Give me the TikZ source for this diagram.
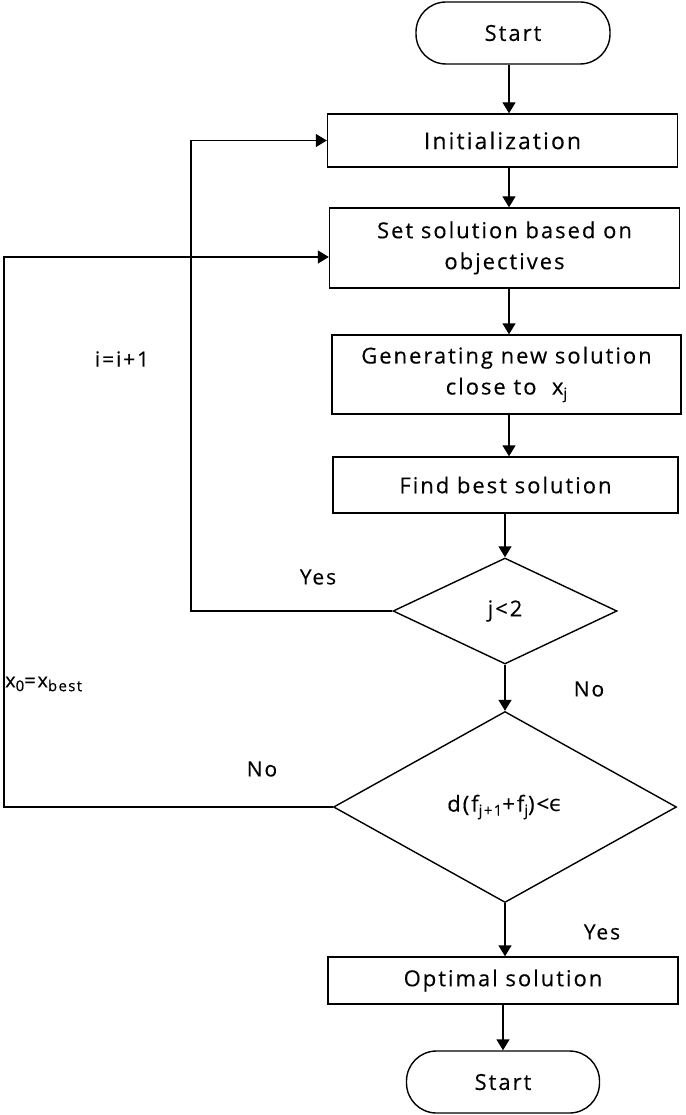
\documentclass[tikz,border=0pt]{standalone}
\usepackage{fontspec}
\setmainfont{Open Sans}[LetterSpace=9,FakeBold=0.3]
\newfontfamily\dvs{DejaVu Sans}
\usetikzlibrary{shapes.geometric,arrows.meta}
\newcommand\lowsub[1]{\raisebox{-0.35ex}{\fontsize{15}{15}\selectfont #1}}
\begin{document}
\begin{tikzpicture}[x=1pt,y=-1pt,
  every node/.style={font=\fontsize{22}{31}\selectfont, inner sep=0pt},
  procbox/.style={draw, line width=1.4pt, minimum width=350pt, align=center},
  termbox/.style={draw, line width=1.4pt, rounded corners=30pt, minimum width=194pt, minimum height=62pt},
  decbox/.style={draw, line width=1.4pt, diamond},
  arr/.style={line width=1.4pt, -{Triangle[length=11pt,width=13pt]}},
  lbl/.style={font=\fontsize{21}{25}\selectfont}]
\useasboundingbox (0,0) rectangle (685,1115);
\coordinate (axis) at (509,0);
\coordinate (c1) at (191,0);
\coordinate (c2) at (4,0);

\node[termbox] (start) at (513,33) {Start};
\node[procbox, minimum height=53pt, font=\fontsize{23}{28}\selectfont] (init) at (502.5,140.5) {Initialization};
\node[procbox, minimum height=80pt] (set) at (504.5,248) {Set solution based on\\objectives};
\node[procbox, minimum width=349pt, minimum height=79pt] (gen) at (506.5,374.5) {Generating new solution\\close to\ \ x\lowsub{j}};
\node[procbox, minimum width=345pt, minimum height=56pt] (find) at (505.5,485) {Find best solution};
\node[decbox, minimum width=224pt, minimum height=106pt] (d1) at (505,611) {j<2};
\node[decbox, minimum width=343pt, minimum height=191pt] (d2) at (505,807) {};
\node (d2text) at (d2.center) {d(f\lowsub{j+1}+f\lowsub{j})<{\dvs ϵ}};
\node[procbox, minimum width=350pt, minimum height=47pt] (opt) at (503,980.5) {Optimal solution};
\node[termbox, minimum width=193pt] (stop) at (503,1082) {Start};

\node[lbl] (li) at (122,359) {i=i+1};
\node[lbl] (lyes1) at (318,577) {Yes};
\node[lbl] (lno1) at (589,689) {No};
\node[lbl] (lno2) at (262,769) {No};
\node[lbl, anchor=west, font=\fontsize{20}{24}\selectfont] (lx) at (5,684) {x\lowsub{0}=x\lowsub{best}};
\node[lbl] (lyes2) at (602,932) {Yes};

\draw[arr] (start.south -| axis) -- (init.north -| axis);
\draw[arr] (init.south -| axis) -- (set.north -| axis);
\draw[arr] (set.south -| axis) -- (gen.north -| axis);
\draw[arr] (gen.south -| axis) -- (find.north -| axis);
\draw[arr] (find.south -| d1.north) -- (d1.north);
\draw[arr] (d1.south) -- (d2.north);
\draw[arr] (d2.south) -- (d2.south |- opt.north);
\draw[arr] (opt.south -| stop.north) -- (stop.north);

\draw[arr] (d1.west) -- (d1.west -| c1) |- (init.west);
\draw[arr] (d2.west) -- (d2.west -| c2) |- ([yshift=-9pt]set.west);
\end{tikzpicture}
\end{document}
